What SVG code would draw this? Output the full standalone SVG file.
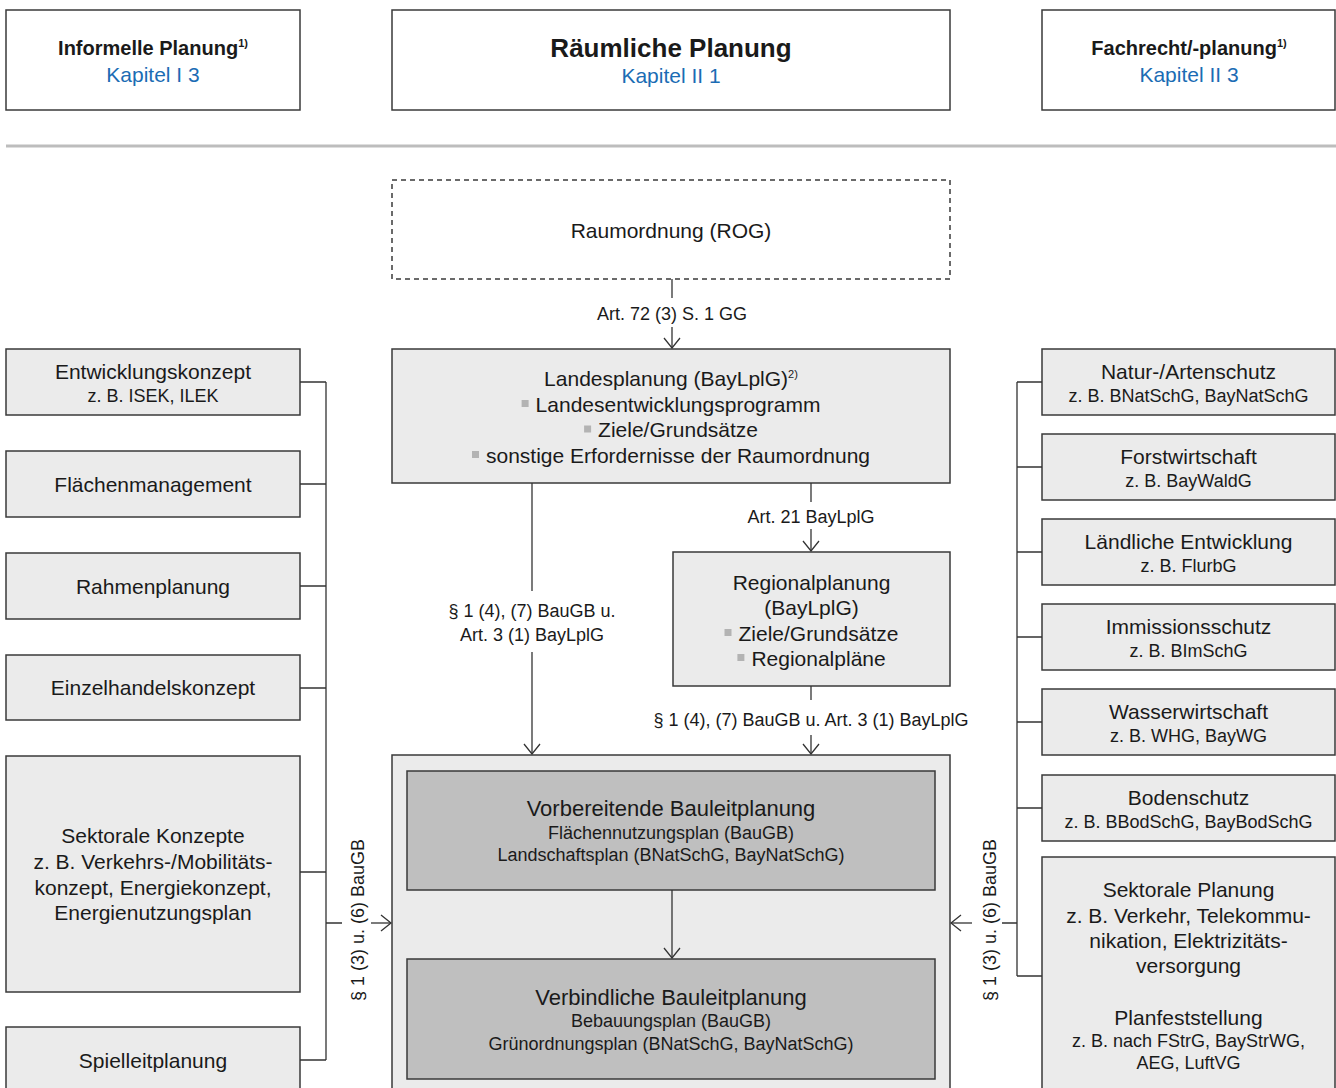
<svg xmlns="http://www.w3.org/2000/svg" width="1336" height="1088" viewBox="0 0 1336 1088">
<style>
text{font-family:"Liberation Sans",Arial,sans-serif;fill:#1a1a1a;text-anchor:middle}
.m{font-size:21px}
.s{font-size:18px}
.l{font-size:18px}
.h{font-size:20px;font-weight:bold}
.hb{font-size:26px;font-weight:bold}
.k{font-size:21px;fill:#1b6cb4}
.sup{font-size:11px}
.st{text-anchor:start}
.w{fill:#ffffff;stroke:#3a3a3a;stroke-width:1.5}
.g{fill:#ebebeb;stroke:#3a3a3a;stroke-width:1.5}
.d{fill:#bfbfbf;stroke:#3a3a3a;stroke-width:1.5}
.dash{fill:#ffffff;stroke:#3a3a3a;stroke-width:1.5;stroke-dasharray:5 4}
.c{stroke:#333333;stroke-width:1.3;fill:none}
.a{stroke:#333333;stroke-width:1.3;fill:none;marker-end:url(#arr)}
.b{fill:#b3b3b3}
</style>
<defs>
<marker id="arr" viewBox="-1 -1 12 18" refX="10" refY="8" markerWidth="12" markerHeight="18" markerUnits="userSpaceOnUse" orient="auto">
<path d="M0,0 L10,8 L0,16" fill="none" stroke="#333333" stroke-width="1.3"/>
</marker>
</defs>
<rect width="1336" height="1088" fill="#ffffff"/>

<g id="header-informell">
<rect class="w" x="6" y="10" width="294" height="100"/>
<text class="h" x="153" y="55">Informelle Planung<tspan class="sup" dy="-8">1)</tspan></text>
<text class="k" x="153" y="82">Kapitel I 3</text>
</g>
<g id="header-raeumlich">
<rect class="w" x="392" y="10" width="558" height="100"/>
<text class="hb" x="671" y="57">Räumliche Planung</text>
<text class="k" x="671" y="83">Kapitel II 1</text>
</g>
<g id="header-fachrecht">
<rect class="w" x="1042" y="10" width="293" height="100"/>
<text class="h" x="1189" y="55">Fachrecht/-planung<tspan class="sup" dy="-8">1)</tspan></text>
<text class="k" x="1189" y="82">Kapitel II 3</text>
</g>
<line x1="6" y1="146" x2="1336" y2="146" stroke="#bdbdbd" stroke-width="3"/>

<g id="raumordnung">
<rect class="dash" x="392" y="180" width="558" height="99"/>
<text class="m" x="671" y="238">Raumordnung (ROG)</text>
</g>

<g id="landesplanung">
<rect class="g" x="392" y="349" width="558" height="134"/>
<text class="m" x="671" y="386">Landesplanung (BayLplG)<tspan class="sup" dy="-8">2)</tspan></text>
<rect class="b" x="521.6" y="400" width="7" height="7"/>
<text class="m st" x="535.6" y="411.5">Landesentwicklungsprogramm</text>
<rect class="b" x="584.1" y="425.5" width="7" height="7"/>
<text class="m st" x="598.1" y="437">Ziele/Grundsätze</text>
<rect class="b" x="472" y="451" width="7" height="7"/>
<text class="m st" x="486" y="462.5">sonstige Erfordernisse der Raumordnung</text>
</g>

<g id="regionalplanung">
<rect class="g" x="673" y="552" width="277" height="134"/>
<text class="m" x="811.5" y="590">Regionalplanung</text>
<text class="m" x="811.5" y="615">(BayLplG)</text>
<rect class="b" x="724.5" y="629" width="7" height="7"/>
<text class="m st" x="738.5" y="640.5">Ziele/Grundsätze</text>
<rect class="b" x="737.4" y="654" width="7" height="7"/>
<text class="m st" x="751.4" y="665.5">Regionalpläne</text>
</g>

<g id="bauleitplanung">
<rect class="g" x="392" y="755" width="558" height="345"/>
</g>
<g id="vorbereitende">
<rect class="d" x="407" y="771" width="528" height="119"/>
<text style="font-size:22px" x="671" y="816">Vorbereitende Bauleitplanung</text>
<text class="s" x="671" y="839">Flächennutzungsplan (BauGB)</text>
<text class="s" x="671" y="861">Landschaftsplan (BNatSchG, BayNatSchG)</text>
</g>
<g id="verbindliche">
<rect class="d" x="407" y="959" width="528" height="120"/>
<text style="font-size:22px" x="671" y="1005">Verbindliche Bauleitplanung</text>
<text class="s" x="671" y="1027">Bebauungsplan (BauGB)</text>
<text class="s" x="671" y="1050">Grünordnungsplan (BNatSchG, BayNatSchG)</text>
</g>

<g id="entwicklungskonzept">
<rect class="g" x="6" y="349" width="294" height="66"/>
<text class="m" x="153" y="379">Entwicklungskonzept</text>
<text class="s" x="153" y="402">z. B. ISEK, ILEK</text>
</g>
<g id="flaechenmanagement">
<rect class="g" x="6" y="451" width="294" height="66"/>
<text class="m" x="153" y="491.5">Flächenmanagement</text>
</g>
<g id="rahmenplanung">
<rect class="g" x="6" y="553" width="294" height="66"/>
<text class="m" x="153" y="593.5">Rahmenplanung</text>
</g>
<g id="einzelhandelskonzept">
<rect class="g" x="6" y="655" width="294" height="65"/>
<text class="m" x="153" y="695">Einzelhandelskonzept</text>
</g>
<g id="sektorale-konzepte">
<rect class="g" x="6" y="756" width="294" height="236"/>
<text class="m" x="153" y="843">Sektorale Konzepte</text>
<text class="m" x="153" y="869">z. B. Verkehrs-/Mobilitäts-</text>
<text class="m" x="153" y="895">konzept, Energiekonzept,</text>
<text class="m" x="153" y="920">Energienutzungsplan</text>
</g>
<g id="spielleitplanung">
<rect class="g" x="6" y="1027" width="294" height="80"/>
<text class="m" x="153" y="1068">Spielleitplanung</text>
</g>

<g id="naturschutz">
<rect class="g" x="1042" y="349" width="293" height="66"/>
<text class="m" x="1188.5" y="379">Natur-/Artenschutz</text>
<text class="s" x="1188.5" y="402">z. B. BNatSchG, BayNatSchG</text>
</g>
<g id="forstwirtschaft">
<rect class="g" x="1042" y="434" width="293" height="66"/>
<text class="m" x="1188.5" y="464">Forstwirtschaft</text>
<text class="s" x="1188.5" y="487">z. B. BayWaldG</text>
</g>
<g id="laendliche-entwicklung">
<rect class="g" x="1042" y="519" width="293" height="66"/>
<text class="m" x="1188.5" y="549">Ländliche Entwicklung</text>
<text class="s" x="1188.5" y="572">z. B. FlurbG</text>
</g>
<g id="immissionsschutz">
<rect class="g" x="1042" y="604" width="293" height="66"/>
<text class="m" x="1188.5" y="634">Immissionsschutz</text>
<text class="s" x="1188.5" y="657">z. B. BImSchG</text>
</g>
<g id="wasserwirtschaft">
<rect class="g" x="1042" y="689" width="293" height="66"/>
<text class="m" x="1188.5" y="719">Wasserwirtschaft</text>
<text class="s" x="1188.5" y="742">z. B. WHG, BayWG</text>
</g>
<g id="bodenschutz">
<rect class="g" x="1042" y="775" width="293" height="66"/>
<text class="m" x="1188.5" y="805">Bodenschutz</text>
<text class="s" x="1188.5" y="828">z. B. BBodSchG, BayBodSchG</text>
</g>
<g id="sektorale-planung">
<rect class="g" x="1042" y="857" width="293" height="250"/>
<text class="m" x="1188.5" y="897">Sektorale Planung</text>
<text class="m" x="1188.5" y="922.5">z. B. Verkehr, Telekommu-</text>
<text class="m" x="1188.5" y="948">nikation, Elektrizitäts-</text>
<text class="m" x="1188.5" y="973">versorgung</text>
<text class="m" x="1188.5" y="1025">Planfeststellung</text>
<text class="s" x="1188.5" y="1047">z. B. nach FStrG, BayStrWG,</text>
<text class="s" x="1188.5" y="1069">AEG, LuftVG</text>
</g>

<g id="connectors">
<line class="c" x1="672" y1="279" x2="672" y2="298"/>
<line class="a" x1="672" y1="327" x2="672" y2="348"/>
<text class="l" x="672" y="320">Art. 72 (3) S. 1 GG</text>

<line class="c" x1="532" y1="483" x2="532" y2="591"/>
<line class="a" x1="532" y1="652" x2="532" y2="754"/>
<text class="l" x="532" y="617">§ 1 (4), (7) BauGB u.</text>
<text class="l" x="532" y="641">Art. 3 (1) BayLplG</text>

<line class="c" x1="811" y1="483" x2="811" y2="502"/>
<line class="a" x1="811" y1="529" x2="811" y2="551"/>
<text class="l" x="811" y="523">Art. 21 BayLplG</text>

<line class="c" x1="811" y1="686" x2="811" y2="700"/>
<line class="a" x1="811" y1="735" x2="811" y2="754"/>
<text class="l" x="811" y="726">§ 1 (4), (7) BauGB u. Art. 3 (1) BayLplG</text>

<line class="a" x1="672" y1="890" x2="672" y2="958"/>

<path class="c" d="M300,382 H326 M300,484 H326 M300,586 H326 M300,688 H326 M300,872 H326 M300,1060 H326 M326,382 V1060 M326,923 H342"/>
<line class="a" x1="371" y1="923" x2="391" y2="923"/>
<text class="l" transform="translate(364,920) rotate(-90)">§ 1 (3) u. (6) BauGB</text>

<path class="c" d="M1042,382 H1017 M1042,467 H1017 M1042,552 H1017 M1042,637 H1017 M1042,722 H1017 M1042,808 H1017 M1042,976 H1017 M1017,382 V976 M1017,923 H1002"/>
<line class="a" x1="972" y1="923" x2="951" y2="923"/>
<text class="l" transform="translate(996,920) rotate(-90)">§ 1 (3) u. (6) BauGB</text>
</g>
</svg>
